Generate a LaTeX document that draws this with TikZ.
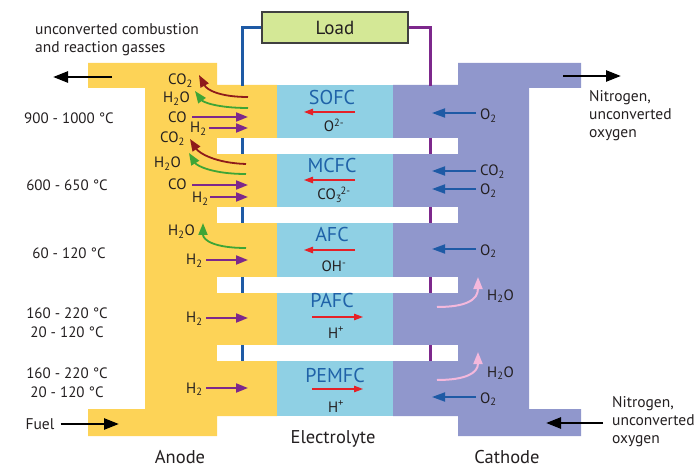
\documentclass[tikz,border=0pt]{standalone}
\usepackage{fontspec}
\setmainfont{PT Sans}
\usetikzlibrary{arrows.meta}
\definecolor{anodeY}{HTML}{FDD357}
\definecolor{electB}{HTML}{8FD0E4}
\definecolor{cathP}{HTML}{9097CC}
\definecolor{wireB}{HTML}{1E5AA5}
\definecolor{wireP}{HTML}{7D288C}
\definecolor{loadG}{HTML}{D4E896}
\definecolor{fcblue}{HTML}{1F62A8}
\definecolor{darkred}{HTML}{8E1B1B}
\definecolor{grn}{HTML}{3EA536}
\definecolor{pnk}{HTML}{F4B8DC}
\definecolor{ionred}{HTML}{E52127}
\definecolor{ink}{HTML}{231F20}
\begin{document}
\begin{tikzpicture}[x=1pt,y=-1pt,
  txt/.style={font=\fontsize{15.5}{18}\selectfont, inner sep=0pt, text=ink},
  tmp/.style={font=\fontsize{15}{19}\selectfont, inner sep=0pt, text=ink, align=center},
  sp/.style={font=\fontsize{15}{17}\selectfont, inner sep=0pt, text=ink},
  fcname/.style={font=\fontsize{20}{22}\selectfont, text=fcblue, inner sep=0pt},
  big/.style={font=\fontsize{18.5}{22}\selectfont, inner sep=0pt, text=ink},
  blk/.style={draw=black, line width=2.6pt, -{Triangle[length=15pt,width=11pt]}},
  purp/.style={draw=wireP, line width=1.8pt, -{Triangle[length=12pt,width=9pt]}},
  cathar/.style={draw=wireB, line width=1.8pt, -{Triangle[length=13pt,width=9pt]}},
  ion/.style={draw=ionred, line width=1.2pt, -{Triangle[length=9pt,width=6.5pt]}},
  dred/.style={draw=darkred, line width=1.8pt, -{Triangle[length=12pt,width=9pt]}},
  grnar/.style={draw=grn, line width=1.8pt, -{Triangle[length=12pt,width=9pt]}},
  pinkar/.style={draw=pnk, line width=2pt, -{Triangle[length=12pt,width=9pt]}},
  wire/.style={line width=3pt},
  gap/.style={fill=white}
]
\useasboundingbox (0,0) rectangle (697,468);
% electrodes and electrolyte
\fill[anodeY] (88,63) -- (217,63) -- (217,85) -- (277,85) -- (277,416) -- (217,416) -- (217,436) -- (88,436) -- (88,409) -- (145,409) -- (145,88) -- (88,88) -- cycle;
\fill[electB] (277,85) rectangle (393,416);
\fill[cathP] (458,63) -- (581,63) -- (581,88) -- (529,88) -- (529,409) -- (581,409) -- (581,436) -- (458,436) -- (458,416) -- (393,416) -- (393,85) -- (458,85) -- cycle;
% separators
\foreach \ya/\yb in {138/154, 207/223, 277/293, 345/361}
  \fill[gap] (217,\ya) rectangle (458,\yb);
% load and wires
\node[draw=black!75, fill=loadG, line width=1.2pt, minimum width=146pt, minimum height=31pt, inner sep=0pt, font=\fontsize{19}{22}\selectfont, text=ink] (load) at (335,27.5) {Load};
\coordinate (bw) at (242,86);
\coordinate (pw) at (430,86);
\draw[wireB, wire] (load.west) -| (bw);
\draw[wireP, wire] (load.east) -| (pw);
\foreach \ya/\yb in {138/154, 207/223, 277/293, 345/361}{
  \draw[wireB, wire] (242,\ya) -- (242,\yb);
  \draw[wireP, wire] (430,\ya) -- (430,\yb);
}
% outer texts and arrows
\node[txt, anchor=north west, align=left] (exhaust) at (35,23.5) {unconverted combustion\\and reaction gasses};
\coordinate (exA) at (112,77); \coordinate (exB) at (53,77);
\draw[blk] (exA) -- (exB);
\coordinate (nA) at (563,76); \coordinate (nB) at (621,76);
\draw[blk] (nA) -- (nB);
\node[txt, anchor=north west, align=left] (nitro1) at (589,90.5) {Nitrogen,\\unconverted\\oxygen};
\node[txt, anchor=north west, align=left] (nitro2) at (612,396.5) {Nitrogen,\\unconverted\\oxygen};
\coordinate (n2A) at (603,423); \coordinate (n2B) at (546,423);
\draw[blk] (n2A) -- (n2B);
\node[txt] (fuel) at (40,424) {Fuel};
\coordinate (fB) at (119,424);
\draw[blk] ([xshift=6pt]fuel.east) -- (fB);
\node[big, anchor=base] (anode) at (180,463) {Anode};
\node[big, anchor=base] (electrolyte) at (333,443) {Electrolyte};
\node[big, anchor=base] (cathode) at (507,463) {Cathode};
% temperatures
\node[tmp] (t1) at (69,118) {900 - 1000 °C};
\node[tmp] (t2) at (67,185) {600 - 650 °C};
\node[tmp] (t3) at (69,253) {60 - 120 °C};
\node[tmp] (t4) at (67,322.5) {160 - 220 °C\\20 - 120 °C};
\node[tmp] (t5) at (67,382.5) {160 - 220 °C\\20 - 120 °C};
% electrolyte labels
\node[fcname, anchor=base] (sofc) at (332,105) {SOFC};
\node[fcname, anchor=base] (mcfc) at (332,173) {MCFC};
\node[fcname, anchor=base] (afc) at (332,242) {AFC};
\node[fcname, anchor=base] (pafc) at (332,308) {PAFC};
\node[fcname, anchor=base] (pemfc) at (335,382) {PEMFC};
\node[sp, anchor=base] (i1) at (334,132) {O\textsuperscript{2-}};
\node[sp, anchor=base] (i2) at (334,200) {CO\textsubscript{3}\kern-1.5pt\textsuperscript{2-}};
\node[sp, anchor=base] (i3) at (334,272) {OH\textsuperscript{-}};
\node[sp, anchor=base] (i4) at (336,338) {H\textsuperscript{+}};
\node[sp, anchor=base] (i5) at (336,412) {H\textsuperscript{+}};
\draw[ion] (355,112) coordinate (r1a) -- (304,112) coordinate (r1b);
\draw[ion] (355,180) coordinate (r2a) -- (304,180) coordinate (r2b);
\draw[ion] (355,250) coordinate (r3a) -- (304,250) coordinate (r3b);
\draw[ion] (312,317) coordinate (r4a) -- (363,317) coordinate (r4b);
\draw[ion] (312,389) coordinate (r5a) -- (363,389) coordinate (r5b);
% anode species: SOFC
\node[sp, anchor=base west] (a1) at (168,85) {CO\textsubscript{2}};
\node[sp, anchor=base west] (a2) at (163,103) {H\textsubscript{2}O};
\node[sp, anchor=base west] (a3) at (168,123) {CO};
\node[sp, anchor=base west] (a4) at (190,133) {H\textsubscript{2}};
\draw[dred] (248,97) .. controls (220,97) and (207,90) .. (199,75);
\draw[grnar] (248,108) .. controls (217,108) and (203,102) .. (195,91);
\draw[purp] (192,117) -- (248,117);
\draw[purp] (209,128) -- (248,128);
% anode species: MCFC
\node[sp, anchor=base west] (b1) at (160,143) {CO\textsubscript{2}};
\node[sp, anchor=base west] (b2) at (154,168) {H\textsubscript{2}O};
\node[sp, anchor=base west] (b3) at (168,190) {CO};
\node[sp, anchor=base west] (b4) at (192,203) {H\textsubscript{2}};
\draw[dred] (246,164) .. controls (215,163) and (199,153) .. (190,139);
\draw[grnar] (246,174) .. controls (213,174) and (197,166) .. (189,153);
\draw[purp] (192,185) -- (248,185);
\draw[purp] (210,197) -- (248,197);
% anode species: AFC, PAFC, PEMFC
\node[sp, anchor=base west] (c1) at (168,236) {H\textsubscript{2}O};
\node[sp, anchor=base west] (c2) at (186,265) {H\textsubscript{2}};
\draw[grnar] (246,248) .. controls (214,248) and (203,240) .. (203,223);
\draw[purp] (206,260) -- (248,260);
\node[sp, anchor=base west] (d1) at (186,323) {H\textsubscript{2}};
\draw[purp] (206,318) -- (248,318);
\node[sp, anchor=base west] (e1) at (186,393) {H\textsubscript{2}};
\draw[purp] (206,388) -- (248,388);
% cathode species
\node[sp, anchor=base west] (k1) at (480,120) {O\textsubscript{2}};
\draw[cathar] (476,113) -- (432,113);
\node[sp, anchor=base west] (k2) at (480,176) {CO\textsubscript{2}};
\draw[cathar] (476,171) -- (432,171);
\node[sp, anchor=base west] (k3) at (480,195) {O\textsubscript{2}};
\draw[cathar] (476,189) -- (432,189);
\node[sp, anchor=base west] (k4) at (480,255) {O\textsubscript{2}};
\draw[cathar] (476,249) -- (432,249);
\node[sp, anchor=base west] (k5) at (487,300) {H\textsubscript{2}O};
\draw[pinkar] (437,307) .. controls (466,307) and (478,300) .. (478,277);
\node[sp, anchor=base west] (k6) at (487,377) {H\textsubscript{2}O};
\draw[pinkar] (437,380) .. controls (466,380) and (478,373) .. (478,352);
\node[sp, anchor=base west] (k7) at (480,403) {O\textsubscript{2}};
\draw[cathar] (476,397) -- (432,397);
\end{tikzpicture}
\end{document}
